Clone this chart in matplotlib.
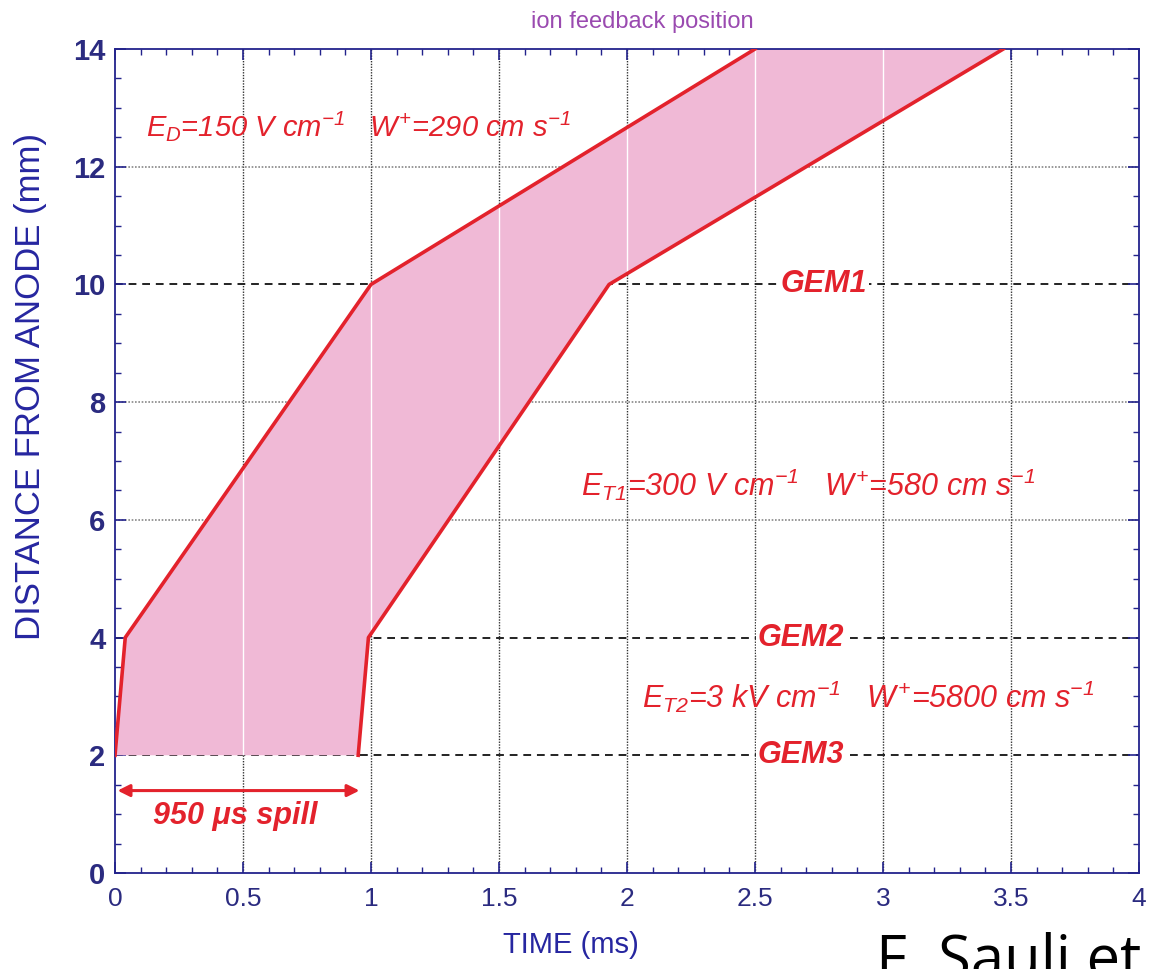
import numpy as np
import matplotlib.pyplot as plt

plt.rcParams['mathtext.fontset'] = 'custom'
plt.rcParams['mathtext.it'] = 'Liberation Sans:italic'
plt.rcParams['mathtext.rm'] = 'Liberation Sans:italic'

# data
t_front = [0.0, 0.04, 1.0, 2.5]
d_front = [2, 4, 10, 14]
t_back = [0.95, 0.99, 1.93, 3.47]
d_back = [2, 4, 10, 14]

gem_names = ['GEM1', 'GEM2', 'GEM3']
gem_pos = [10, 4, 2]
dotted_y = [6, 8, 12]
grid_x = [0.5, 1.0, 1.5, 2.0, 2.5, 3.0, 3.5]
spill = [0.01, 0.955]
spill_y = 1.4

red = '#e3222c'
pink = '#f0b9d6'
navy = '#23238c'
narrow = ['Liberation Sans Narrow', 'Liberation Sans', 'DejaVu Sans']
arial = ['Liberation Sans', 'DejaVu Sans']

fig = plt.figure(figsize=(11.57, 9.69), dpi=100)
ax = fig.add_axes([0.0994, 0.0991, 0.885, 0.8503])

# grid lines
for x in grid_x:
    ax.axvline(x, color='#333333', ls=(0, (1, 1)), lw=1.0, zorder=1)
for y in dotted_y:
    ax.axhline(y, color='#888888', ls=(0, (1, 1)), lw=1.2, zorder=1)
for y in gem_pos:
    ax.axhline(y, color='#222222', ls=(0, (4, 3)), lw=1.4, zorder=1)

# shaded band
poly_t = t_front + t_back[::-1]
poly_d = d_front + d_back[::-1]
patch = ax.fill(poly_t, poly_d, color=pink, lw=0, zorder=2)[0]
for x in grid_x:
    ln = ax.axvline(x, color='white', lw=1.0, zorder=2.5)
    ln.set_clip_path(patch)

ax.plot(t_front, d_front, color=red, lw=2.6, zorder=3)
ax.plot(t_back, d_back, color=red, lw=2.6, zorder=3)

# spill arrow
ax.annotate('', xy=(spill[0], spill_y), xytext=(spill[1], spill_y),
            arrowprops=dict(arrowstyle='<|-|>', color=red, lw=2.2,
                            mutation_scale=18, shrinkA=0, shrinkB=0))
ax.text(0.47, 0.97, '950 μs spill', color=red, fontsize=22, fontweight='bold',
        style='italic', ha='center', va='center', family=arial)

# field annotations
ax.text(0.12, 12.7, r'$E_D$=150 V cm$^{-1}$   $W^{+}$=290 cm s$^{-1}$',
        color=red, fontsize=21, style='italic', family=narrow, va='center')
ax.text(1.82, 6.6, r'$E_{T1}$=300 V cm$^{-1}$   $W^{+}$=580 cm s$^{-1}$',
        color=red, fontsize=22, style='italic', family=narrow, va='center')
ax.text(2.06, 3.0, r'$E_{T2}$=3 kV cm$^{-1}$   $W^{+}$=5800 cm s$^{-1}$',
        color=red, fontsize=22, style='italic', family=narrow, va='center')

gem_x = [2.77, 2.68, 2.68]
for name, y, x in zip(gem_names, gem_pos, gem_x):
    ax.text(x, y, name, color=red, fontsize=22, fontweight='bold', style='italic',
            family=arial, ha='center', va='center', zorder=4,
            bbox=dict(facecolor='white', edgecolor='none', pad=1))

ax.set_xlim(0, 4)
ax.set_ylim(0, 14)
ax.set_xticks(np.arange(0, 4.01, 0.5))
ax.set_xticklabels(['0', '0.5', '1', '1.5', '2', '2.5', '3', '3.5', '4'])
ax.set_xticks(np.arange(0, 4.01, 0.1), minor=True)
ax.set_yticks(np.arange(0, 14.1, 2))
ax.set_yticks(np.arange(0, 14.1, 0.5), minor=True)
ax.tick_params(which='both', direction='in', top=True, right=True, color=navy)
ax.tick_params(which='major', length=8, width=1.2)
ax.tick_params(which='minor', length=4, width=1)
ax.tick_params(axis='x', pad=10, labelsize=19, labelcolor='#2b2b80')
ax.tick_params(axis='y', pad=7, labelsize=21, labelcolor='#2b2b80')
for lab in ax.get_xticklabels():
    lab.set_family(narrow)
for lab in ax.get_yticklabels():
    lab.set_family(arial)
    lab.set_fontweight('bold')
for sp in ax.spines.values():
    sp.set_color(navy)
    sp.set_linewidth(1.3)

fig.text(0.555, 1 - 22 / 969, 'ion feedback position', color='#9a4ab0',
         fontsize=17, ha='center', va='center', family=narrow)
fig.text(0.026, 1 - 387 / 969, 'DISTANCE FROM ANODE (mm)', color='#2626a0',
         fontsize=25, rotation=90, ha='center', va='center', family=narrow)
fig.text(0.493, 1 - 945 / 969, 'TIME (ms)', color='#2626a0', fontsize=21,
         ha='center', va='center', family=narrow)
fig.text(876 / 1157, 1 - 932 / 969, 'F. Sauli et', color='black', fontsize=43,
         ha='left', va='top', family=['Open Sans', 'DejaVu Sans'])

fig.savefig('out.png', dpi=100)
